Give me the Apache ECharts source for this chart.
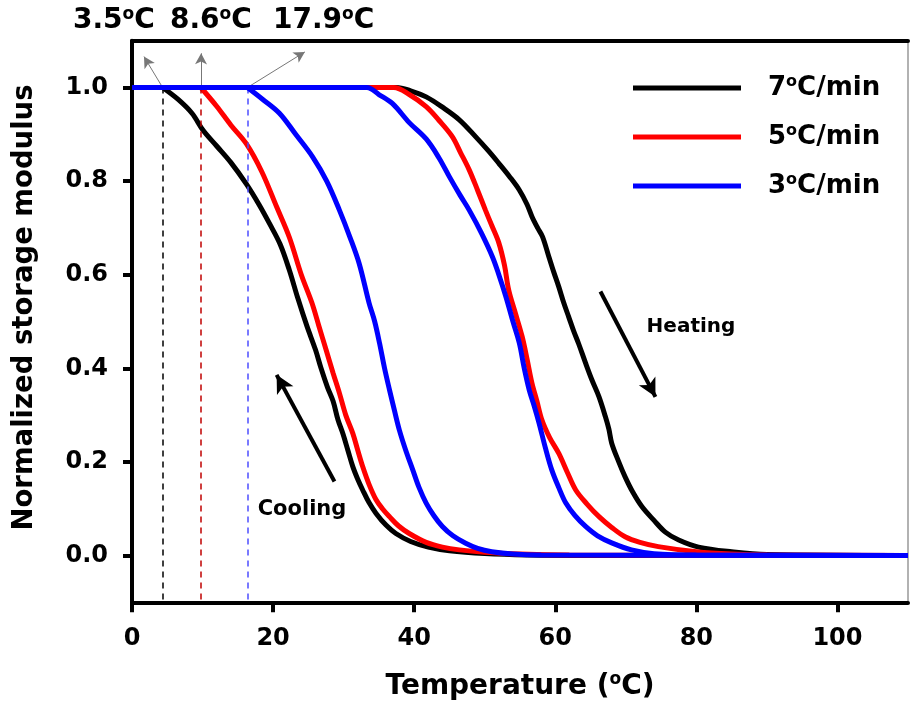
<!DOCTYPE html>
<html>
<head>
<meta charset="utf-8">
<script src="https://cdn.jsdelivr.net/npm/echarts@6/dist/echarts.min.js"></script>
<style>html,body{margin:0;padding:0;background:#fff}#c{width:910px;height:708px}</style>
</head>
<body>
<div id="c"></div>
<script>
// ---- data ----
const xTicks = [0, 20, 40, 60, 80, 100];
const yTicks = [0, 0.2, 0.4, 0.6, 0.8, 1.0];
const seriesNames = ['7°C/min', '5°C/min', '3°C/min'];
const seriesColors = ['#000000', '#ff0000', '#0000ff'];

// cooling curves (listed from onset temperature upward)
const cooling7 = [[4.34,1.0],[6.5,0.975],[8.5,0.945],[10.1,0.908],[12,0.875],[14,0.84],[16.2,0.794],[18,0.75],[19.5,0.709],[21,0.665],[22.3,0.61],[23.5,0.55],[24.8,0.49],[26,0.44],[26.8,0.40],[27.7,0.36],[28.5,0.33],[29.2,0.29],[29.9,0.26],[30.6,0.225],[31.3,0.19],[32,0.163],[32.7,0.14],[33.6,0.113],[34.6,0.09],[36,0.065],[37.4,0.047],[39.5,0.03],[42,0.018],[45,0.01],[50,0.004],[56,0.001],[65,0],[110,0]];
const cooling5 = [[9.76,1.0],[12,0.96],[14,0.92],[16.2,0.88],[18.4,0.82],[20.5,0.745],[22.3,0.68],[24,0.6],[25.5,0.54],[26.5,0.49],[27.5,0.44],[28.5,0.39],[29.4,0.347],[30.3,0.3],[31.3,0.261],[32,0.225],[32.7,0.19],[33.6,0.152],[34.6,0.119],[35.5,0.1],[36.5,0.083],[37.8,0.063],[39.3,0.047],[41.7,0.028],[44,0.018],[46.4,0.012],[50,0.007],[55,0.003],[62,0.001],[110,0]];
const cooling3 = [[16.36,1.0],[18.5,0.975],[20.9,0.945],[23.2,0.9],[25.6,0.852],[27.6,0.8],[29.4,0.738],[30.9,0.68],[32.2,0.624],[33.6,0.54],[34.4,0.5],[35.1,0.453],[35.8,0.4],[36.5,0.354],[37.2,0.31],[37.9,0.268],[38.8,0.225],[39.8,0.183],[40.7,0.145],[41.7,0.112],[42.8,0.085],[44,0.062],[45.5,0.042],[47.3,0.026],[49,0.015],[51,0.008],[54,0.003],[58,0.001],[110,0]];

// heating curves
const heating7 = [[0,1],[37.5,1],[39.5,0.993],[41.7,0.98],[44,0.958],[46.4,0.931],[48.7,0.895],[50.5,0.865],[52,0.838],[53.5,0.81],[54.9,0.781],[56,0.75],[56.7,0.724],[57.5,0.70],[58.2,0.681],[59.1,0.638],[59.8,0.605],[60.5,0.574],[61.2,0.54],[61.9,0.51],[62.6,0.48],[63.3,0.453],[64.3,0.411],[65.2,0.375],[66.2,0.339],[67.1,0.297],[67.6,0.27],[68.0,0.24],[69,0.2],[69.9,0.168],[71,0.135],[72.3,0.104],[74,0.075],[75.6,0.05],[77.5,0.033],[80.3,0.018],[85,0.008],[90,0.002],[110,0]];
const heating5 = [[0,1],[37.1,1],[39.3,0.985],[41.7,0.959],[43.5,0.93],[45.4,0.895],[46.6,0.86],[47.8,0.824],[49,0.78],[50.1,0.738],[51,0.705],[52.0,0.668],[52.8,0.62],[53.4,0.567],[54.4,0.515],[55.3,0.468],[56,0.42],[56.7,0.368],[57.4,0.33],[58.1,0.29],[59.2,0.252],[60.5,0.218],[61.7,0.178],[62.9,0.14],[64.5,0.11],[66.2,0.083],[68,0.06],[69.9,0.04],[72,0.028],[74.6,0.019],[80,0.008],[85,0.003],[90,0.001],[110,0]];
const heating3 = [[0,1],[33.3,1],[35,0.985],[36.9,0.966],[39.3,0.925],[41.7,0.89],[43.5,0.85],[45,0.809],[46.5,0.77],[47.8,0.738],[49.5,0.69],[51.1,0.638],[52,0.6],[53,0.553],[54,0.5],[54.9,0.454],[55.6,0.4],[56.3,0.354],[57,0.32],[57.7,0.283],[58.6,0.23],[59.5,0.183],[60.5,0.145],[61.5,0.112],[62.8,0.085],[64.3,0.062],[66,0.042],[68,0.027],[70.8,0.012],[74,0.004],[80,0.001],[110,0]];

// onset markers
const onsetX = [4.34, 9.76, 16.36];
const onsetLabels = ['3.5', '8.6', '17.9'];
const onsetColors = ['#000000', '#c00000', '#4d4dff'];
const onsetArrowTips = [[1.7, 1.066], [9.8, 1.073], [24.5, 1.076]];
const heatingArrow = [[66.4, 0.564], [74.2, 0.339]];
const coolingArrow = [[28.7, 0.158], [20.5, 0.386]];

// ---- chart ----
const FONT = 'DejaVu Sans';
function richStyles(size, color) {
  return {
    n: { fontFamily: FONT, fontWeight: 'bold', fontSize: size, color: color, lineHeight: size + 2 },
    s: { fontFamily: FONT, fontWeight: 'bold', fontSize: Math.round(size * 0.6), color: color, verticalAlign: 'top', lineHeight: size + 2 }
  };
}
function degText(str) {
  const parts = str.split('°');
  return '{n|' + parts[0] + '}{s|o}{n|' + parts[1] + '}';
}

const chart = echarts.init(document.getElementById('c'), null, { renderer: 'canvas' });

const curveSeries = [];
const coolings = [cooling7, cooling5, cooling3];
const heatings = [heating7, heating5, heating3];
for (let i = 0; i < 3; i++) {
  [coolings[i], heatings[i]].forEach(d => {
    curveSeries.push({
      type: 'line', name: seriesNames[i], data: d, showSymbol: false, symbol: 'none',
      smooth: 0.35,
      color: seriesColors[i],
      lineStyle: { color: seriesColors[i], width: 5 },
      z: 3 + i
    });
  });
}

const markData = [];
onsetX.forEach((x, i) => {
  markData.push([
    { coord: [x, 1.0], symbol: 'none', lineStyle: { color: onsetColors[i], width: 1.5, type: [6, 5] } },
    { coord: [x, -0.1], symbol: 'none' }
  ]);
  markData.push([
    { coord: [x, 1.0], symbol: 'none', lineStyle: { color: '#777', width: 1, type: 'solid' } },
    { coord: onsetArrowTips[i], symbol: 'arrow', symbolSize: [9, 11] }
  ]);
});
[heatingArrow, coolingArrow].forEach(a => {
  markData.push([
    { coord: a[0], symbol: 'none', lineStyle: { color: '#000', width: 4, type: 'solid' } },
    { coord: a[1], symbol: 'arrow', symbolSize: [14, 18] }
  ]);
});

const option = {
  animation: false,
  backgroundColor: '#ffffff',
  grid: { left: 132, right: 2, top: 40.7, bottom: 105.7 },
  legend: {
    data: seriesNames,
    orient: 'vertical',
    left: 628, top: 69,
    icon: 'rect', itemWidth: 108, itemHeight: 5, itemGap: 22,
    formatter: name => degText(name),
    textStyle: { color: '#000', padding: [0, 0, 0, 22], rich: richStyles(26, '#000') },
    selectedMode: false
  },
  xAxis: [{
    type: 'value', min: 0, max: 110,
    axisLine: { onZero: false, lineStyle: { color: '#000', width: 4 } },
    axisTick: { customValues: xTicks, length: 10, lineStyle: { color: '#000', width: 4 } },
    axisLabel: { customValues: xTicks, margin: 24, fontFamily: FONT, fontWeight: 'bold', fontSize: 24, color: '#000' },
    splitLine: { show: false },
    name: 'Temperature ({s|o}C)', nameLocation: 'middle', nameGap: 69,
    nameTextStyle: { fontFamily: FONT, fontWeight: 'bold', fontSize: 28, color: '#000',
      rich: { s: { fontFamily: FONT, fontWeight: 'bold', fontSize: 17, color: '#000', verticalAlign: 'top', lineHeight: 30 } } }
  }, {
    type: 'value', min: 0, max: 110, position: 'top',
    axisLine: { onZero: false, lineStyle: { color: '#000', width: 4 } },
    axisTick: { show: false }, axisLabel: { show: false }, splitLine: { show: false }
  }],
  yAxis: [{
    type: 'value', min: -0.1, max: 1.1,
    axisLine: { onZero: false, lineStyle: { color: '#000', width: 4 } },
    axisTick: { customValues: yTicks, length: 9, lineStyle: { color: '#000', width: 4 } },
    axisLabel: { customValues: yTicks, margin: 24, formatter: v => v.toFixed(1), fontFamily: FONT, fontWeight: 'bold', fontSize: 24, color: '#000' },
    splitLine: { show: false },
    name: 'Normalized storage modulus', nameLocation: 'middle', nameGap: 93, nameRotate: 90,
    nameTextStyle: { fontFamily: FONT, fontWeight: 'bold', fontSize: 27.5, color: '#000', padding: [0, 0, 0, 28] }
  }, {
    type: 'value', min: -0.1, max: 1.1, position: 'right',
    axisLine: { onZero: false, lineStyle: { color: '#999', width: 1.5 } },
    axisTick: { show: false }, axisLabel: { show: false }, splitLine: { show: false }
  }],
  series: curveSeries.concat([{
    type: 'line', name: 'marks', data: [], silent: true, z: 2,
    markLine: { silent: true, animation: false, label: { show: false }, symbol: ['none', 'none'], data: markData }
  }]),
  graphic: onsetLabels.map((t, i) => ({
    type: 'text',
    x: [73, 170, 273][i], y: 21,
    style: { text: degText(t + '°C'), rich: richStyles(28, onsetColors[i]), textVerticalAlign: 'middle', textAlign: 'left' }
  })).concat([
    { type: 'text', x: 691, y: 327, style: { text: 'Heating', fill: '#000', font: 'bold 20px "DejaVu Sans"', textAlign: 'center', textVerticalAlign: 'middle' } },
    { type: 'text', x: 302, y: 510, style: { text: 'Cooling', fill: '#000', font: 'bold 21px "DejaVu Sans"', textAlign: 'center', textVerticalAlign: 'middle' } }
  ])
};
chart.setOption(option);
</script>
</body>
</html>
